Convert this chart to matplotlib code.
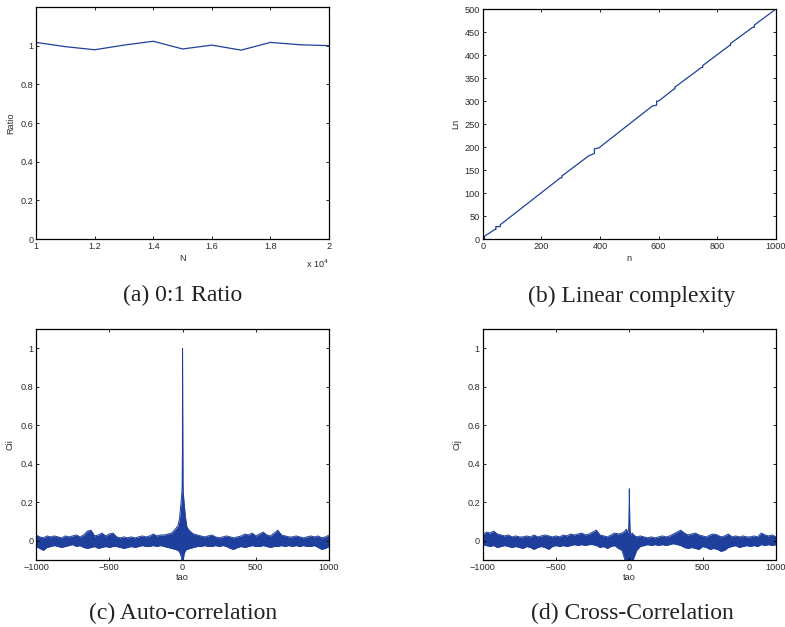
import numpy as np
import matplotlib
matplotlib.use("Agg")
import matplotlib.pyplot as plt
from matplotlib.ticker import FuncFormatter

plt.rcParams['font.family'] = ['Liberation Sans', 'DejaVu Sans']

################################################################
# (a) 0:1 ratio
N_values = [10000, 11000, 12000, 13000, 14000, 15000, 16000, 17000, 18000, 19000, 20000]
ratio = [1.017, 0.995, 0.979, 1.003, 1.023, 0.983, 1.003, 0.977, 1.017, 1.005, 1.0]

# (b) linear complexity profile (vertices of the staircase)
n_vals = [0, 6, 6, 42, 45, 45, 58, 60, 60, 265, 270, 270, 362, 381, 381, 396, 578, 593,
          593, 600, 652, 655, 655, 746, 750, 750, 842, 845, 845, 920, 926, 926, 1000]
Ln_vals = [0, 0, 6, 21, 21, 27, 27, 27, 31, 133, 133, 137, 181, 186, 196, 198, 289, 291,
           300, 300, 326, 326, 330, 373, 373, 377, 421, 421, 425, 460, 460, 465, 500]

# (c), (d) correlation envelopes sampled on tau
tau = (list(range(-1000, -50, 25))
       + [-50, -30, -20, -10, -5, -3, -1, 0, 1, 3, 5, 10, 20, 30, 50]
       + list(range(75, 1001, 25)))

cii_upper = [0.03, 0.02, 0.015, 0.025, 0.02, 0.025, 0.02, 0.015, 0.025, 0.02, 0.025, 0.03, 0.02,
             0.03, 0.05, 0.055, 0.025, 0.03, 0.04, 0.025, 0.035, 0.04, 0.02, 0.015, 0.02, 0.015,
             0.02, 0.015, 0.02, 0.025, 0.02, 0.025, 0.035, 0.025, 0.03, 0.03, 0.035, 0.04,
             0.06, 0.08, 0.12, 0.2, 0.25, 0.28, 0.47, 1.0, 0.7, 0.29, 0.25, 0.2, 0.12, 0.07, 0.05,
             0.035, 0.03, 0.025, 0.02, 0.025, 0.03, 0.02, 0.015, 0.02, 0.025, 0.02, 0.015, 0.02,
             0.025, 0.035, 0.03, 0.04, 0.025, 0.035, 0.045, 0.03, 0.025, 0.04, 0.055, 0.03, 0.025,
             0.02, 0.02, 0.025, 0.02, 0.015, 0.02, 0.025, 0.02, 0.025, 0.015, 0.02, 0.03]
cii_lower = [-0.03, -0.04, -0.05, -0.035, -0.03, -0.025, -0.03, -0.035, -0.03, -0.025, -0.02, -0.03,
             -0.025, -0.035, -0.04, -0.035, -0.03, -0.04, -0.035, -0.03, -0.035, -0.03, -0.03,
             -0.035, -0.04, -0.035, -0.03, -0.035, -0.03, -0.025, -0.03, -0.03, -0.025, -0.03,
             -0.025, -0.03, -0.035, -0.04,
             -0.045, -0.05, -0.06, -0.08, -0.1, -0.12, -0.12, -0.12, -0.12, -0.12, -0.1, -0.07,
             -0.05, -0.045, -0.04,
             -0.035, -0.03, -0.03, -0.025, -0.03, -0.03, -0.025, -0.03, -0.025, -0.03, -0.04,
             -0.045, -0.035, -0.03, -0.035, -0.03, -0.025, -0.03, -0.03, -0.025, -0.03, -0.035,
             -0.03, -0.03, -0.025, -0.03, -0.025, -0.03, -0.025, -0.03, -0.025, -0.03, -0.03,
             -0.025, -0.035, -0.045, -0.04, -0.03]

cij_upper = [0.03, 0.045, 0.04, 0.05, 0.035, 0.03, 0.025, 0.03, 0.02, 0.025, 0.02, 0.02, 0.025,
             0.02, 0.03, 0.02, 0.025, 0.03, 0.025, 0.02, 0.025, 0.02, 0.03, 0.025, 0.035, 0.03,
             0.035, 0.04, 0.03, 0.035, 0.045, 0.055, 0.03, 0.025, 0.02, 0.03, 0.04, 0.035,
             0.04, 0.05, 0.06, 0.04, 0.06, 0.12, 0.2, 0.27, 0.2, 0.1, 0.05, 0.03, 0.04, 0.03, 0.02,
             0.025, 0.02, 0.015, 0.02, 0.015, 0.02, 0.025, 0.02, 0.025, 0.035, 0.045, 0.055, 0.04,
             0.03, 0.035, 0.04, 0.03, 0.025, 0.02, 0.03, 0.035, 0.03, 0.02, 0.025, 0.035, 0.02,
             0.025, 0.02, 0.025, 0.02, 0.02, 0.025, 0.02, 0.04, 0.03, 0.025, 0.03, 0.02]
cij_lower = [-0.02, -0.025, -0.03, -0.025, -0.035, -0.03, -0.025, -0.03, -0.035, -0.03, -0.035,
             -0.04, -0.03, -0.035, -0.045, -0.035, -0.03, -0.035, -0.045, -0.03, -0.025, -0.03,
             -0.025, -0.03, -0.025, -0.02, -0.025, -0.02, -0.025, -0.02, -0.02, -0.025, -0.035,
             -0.03, -0.04, -0.03, -0.025, -0.04,
             -0.05, -0.1, -0.12, -0.12, -0.12, -0.12, -0.12, -0.12, -0.12, -0.12, -0.12, -0.12,
             -0.12, -0.09, -0.05,
             -0.03, -0.025, -0.02, -0.025, -0.02, -0.025, -0.02, -0.025, -0.02, -0.015, -0.02,
             -0.025, -0.035, -0.04, -0.035, -0.04, -0.045, -0.03, -0.035, -0.045, -0.04, -0.045,
             -0.055, -0.05, -0.035, -0.03, -0.025, -0.035, -0.03, -0.025, -0.03, -0.025, -0.03,
             -0.02, -0.025, -0.02, -0.025, -0.02]

captions = ["(a) 0:1 Ratio", "(b) Linear complexity", "(c) Auto-correlation", "(d) Cross-Correlation"]

################################################################
blue = '#1f3f9c'
tick_size = 6.6
txt_col = '#2a2a2a'

fig = plt.figure(figsize=(7.85, 6.27), dpi=100)
axA = fig.add_axes([0.0459, 0.6188, 0.3733, 0.370])
axB = fig.add_axes([0.6149, 0.6188, 0.3736, 0.3668])
axC = fig.add_axes([0.0459, 0.1069, 0.3733, 0.368])
axD = fig.add_axes([0.6149, 0.1069, 0.3736, 0.368])

for ax in (axA, axB, axC, axD):
    ax.tick_params(direction='in', top=True, right=True, length=2.5, width=0.6,
                   labelsize=tick_size, labelcolor=txt_col, pad=2)
    for s in ax.spines.values():
        s.set_linewidth(0.9)

# (a)
axA.plot(N_values, ratio, color=blue, lw=0.9)
axA.set_xlim(10000, 20000)
axA.set_ylim(0, 1.2)
axA.set_xticks(np.arange(10000, 20001, 2000))
axA.xaxis.set_major_formatter(FuncFormatter(lambda v, p: '%g' % (v / 1e4)))
axA.set_yticks([0, 0.2, 0.4, 0.6, 0.8, 1])
axA.set_yticklabels(['0', '0.2', '0.4', '0.6', '0.8', '1'])
axA.set_xlabel('N', fontsize=tick_size, color=txt_col, labelpad=2)
axA.set_ylabel('Ratio', fontsize=tick_size, color=txt_col, labelpad=4)
axA.text(1.0, -0.105, 'x 10$^4$', transform=axA.transAxes, ha='right', va='center',
         fontsize=tick_size, color=txt_col)

# (b)
axB.plot(n_vals, Ln_vals, color=blue, lw=0.9)
axB.set_xlim(0, 1000)
axB.set_ylim(0, 500)
axB.set_xticks(range(0, 1001, 200))
axB.set_yticks(range(0, 501, 50))
axB.set_xlabel('n', fontsize=tick_size, color=txt_col, labelpad=2)
axB.set_ylabel('Ln', fontsize=tick_size, color=txt_col, labelpad=3)

# (c), (d)
for ax, up, lo, lab in ((axC, cii_upper, cii_lower, 'Cii'), (axD, cij_upper, cij_lower, 'Cij')):
    ax.fill_between(tau, lo, up, color=blue, lw=0)
    ax.plot(tau, up, color=blue, lw=0.7)
    ax.plot(tau, lo, color=blue, lw=0.7)
    ax.set_xlim(-1000, 1000)
    ax.set_ylim(-0.1, 1.1)
    ax.set_xticks([-1000, -500, 0, 500, 1000])
    ax.set_xticklabels(['\u22121000', '\u2212500', '0', '500', '1000'])
    ax.set_yticks([0, 0.2, 0.4, 0.6, 0.8, 1])
    ax.set_yticklabels(['0', '0.2', '0.4', '0.6', '0.8', '1'])
    ax.set_xlabel('tao', fontsize=tick_size, color=txt_col, labelpad=1)
    ax.set_ylabel(lab, fontsize=tick_size, color=txt_col, labelpad=4)

# captions
cap_pos = [(0.233, 0.528), (0.805, 0.528), (0.233, 0.021), (0.805, 0.021)]
for (x, y), c in zip(cap_pos, captions):
    fig.text(x, y, c, ha='center', va='center', fontsize=17, family='Liberation Serif',
             color='#222222')

fig.savefig('out.png', dpi=100)
